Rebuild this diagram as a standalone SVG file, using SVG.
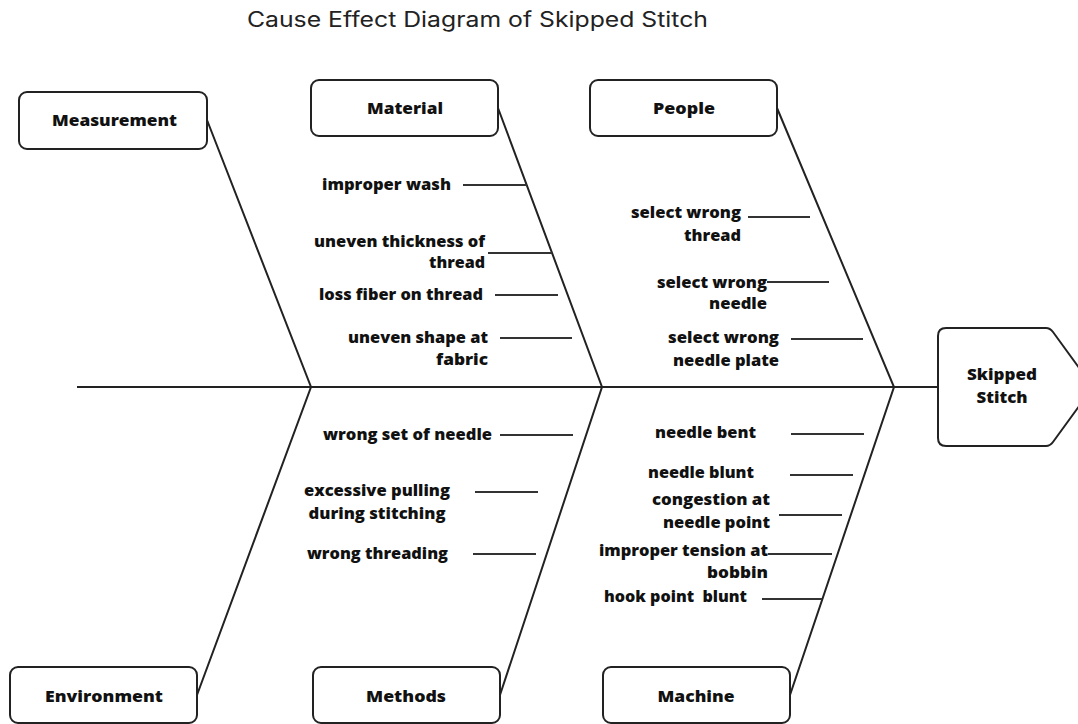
<svg xmlns="http://www.w3.org/2000/svg" width="1078" height="724" viewBox="0 0 1078 724">
  <style>
    .box { fill: #fff; stroke: #222; stroke-width: 2; }
    .bone { fill: none; stroke: #222; stroke-width: 2; }
    .tick { fill: none; stroke: #333; stroke-width: 2; }
    .head { font-family: "Open Sans", "Liberation Sans", sans-serif; font-weight: 800; font-size: 16.5px; fill: #111; text-anchor: middle; }
    .cause { font-family: "Open Sans", "Liberation Sans", sans-serif; font-weight: 800; font-size: 16px; fill: #111; }
    .end { text-anchor: end; }
    .mid { text-anchor: middle; }
    .title { font-family: "Inter", "Liberation Sans", sans-serif; font-size: 21px; fill: #222; }
  </style>

  <rect width="1078" height="724" fill="#fff"/>

  <text class="title" x="247" y="27" textLength="461" lengthAdjust="spacingAndGlyphs">Cause Effect Diagram of Skipped Stitch</text>

  <!-- spine and category bones -->
  <g id="connectors">
    <line class="bone" x1="77" y1="387" x2="938" y2="387"/>
    <polyline class="bone" points="207,120 311,387 197,695"/>
    <polyline class="bone" points="498,108 602,387 500,695"/>
    <polyline class="bone" points="777,108 894,387 790,695"/>

    <!-- Material causes -->
    <line class="tick" x1="463" y1="185" x2="527" y2="185"/>
    <line class="tick" x1="488" y1="253" x2="552" y2="253"/>
    <line class="tick" x1="495" y1="295" x2="558" y2="295"/>
    <line class="tick" x1="500" y1="338" x2="572" y2="338"/>

    <!-- People causes -->
    <line class="tick" x1="748" y1="217" x2="810" y2="217"/>
    <line class="tick" x1="767" y1="282" x2="829" y2="282"/>
    <line class="tick" x1="791" y1="339" x2="863" y2="339"/>

    <!-- Methods causes -->
    <line class="tick" x1="500" y1="435" x2="573" y2="435"/>
    <line class="tick" x1="475" y1="492" x2="538" y2="492"/>
    <line class="tick" x1="473" y1="554" x2="536" y2="554"/>

    <!-- Machine causes -->
    <line class="tick" x1="791" y1="434" x2="864" y2="434"/>
    <line class="tick" x1="790" y1="475" x2="853" y2="475"/>
    <line class="tick" x1="779" y1="515" x2="842" y2="515"/>
    <line class="tick" x1="768" y1="554" x2="832" y2="554"/>
    <line class="tick" x1="762" y1="599" x2="822" y2="599"/>
  </g>

  <!-- category boxes -->
  <g id="measurement">
    <rect class="box" x="19" y="92" width="188" height="57" rx="8"/>
    <text class="head" x="114.5" y="126" textLength="125" lengthAdjust="spacingAndGlyphs">Measurement</text>
  </g>
  <g id="material">
    <rect class="box" x="311" y="80" width="187" height="56" rx="8"/>
    <text class="head" x="405" y="114" textLength="76" lengthAdjust="spacingAndGlyphs">Material</text>
  </g>
  <g id="people">
    <rect class="box" x="590" y="80" width="187" height="56" rx="8"/>
    <text class="head" x="684" y="114" textLength="62" lengthAdjust="spacingAndGlyphs">People</text>
  </g>
  <g id="environment">
    <rect class="box" x="10" y="667" width="187" height="56" rx="8"/>
    <text class="head" x="104" y="702" textLength="118" lengthAdjust="spacingAndGlyphs">Environment</text>
  </g>
  <g id="methods">
    <rect class="box" x="313" y="667" width="187" height="56" rx="8"/>
    <text class="head" x="406" y="702" textLength="80" lengthAdjust="spacingAndGlyphs">Methods</text>
  </g>
  <g id="machine">
    <rect class="box" x="603" y="667" width="187" height="56" rx="8"/>
    <text class="head" x="696" y="702" textLength="77" lengthAdjust="spacingAndGlyphs">Machine</text>
  </g>

  <!-- effect head -->
  <g id="effect">
    <path class="box" d="M946,328 H1046 Q1050,328 1053,332 L1093,387 L1053,442 Q1050,446 1046,446 H946 Q938,446 938,438 V336 Q938,328 946,328 Z"/>
    <text class="head" x="1002" y="380" textLength="70" lengthAdjust="spacingAndGlyphs">Skipped</text>
    <text class="head" x="1002" y="403" textLength="51" lengthAdjust="spacingAndGlyphs">Stitch</text>
  </g>

  <!-- Material causes -->
  <g id="material-causes">
    <text class="cause" x="322" y="190" textLength="129" lengthAdjust="spacingAndGlyphs">improper wash</text>
    <text class="cause end" x="485" y="247" textLength="171" lengthAdjust="spacingAndGlyphs">uneven thickness of</text>
    <text class="cause end" x="485" y="268" textLength="56" lengthAdjust="spacingAndGlyphs">thread</text>
    <text class="cause" x="319" y="300" textLength="164" lengthAdjust="spacingAndGlyphs">loss fiber on thread</text>
    <text class="cause end" x="488" y="343" textLength="140" lengthAdjust="spacingAndGlyphs">uneven shape at</text>
    <text class="cause end" x="488" y="365" textLength="52" lengthAdjust="spacingAndGlyphs">fabric</text>
  </g>

  <!-- People causes -->
  <g id="people-causes">
    <text class="cause end" x="741" y="218" textLength="110" lengthAdjust="spacingAndGlyphs">select wrong</text>
    <text class="cause end" x="741" y="241" textLength="57" lengthAdjust="spacingAndGlyphs">thread</text>
    <text class="cause end" x="767" y="288" textLength="110" lengthAdjust="spacingAndGlyphs">select wrong</text>
    <text class="cause end" x="767" y="309" textLength="58" lengthAdjust="spacingAndGlyphs">needle</text>
    <text class="cause end" x="779" y="343" textLength="111" lengthAdjust="spacingAndGlyphs">select wrong</text>
    <text class="cause end" x="779" y="366" textLength="106" lengthAdjust="spacingAndGlyphs">needle plate</text>
  </g>

  <!-- Methods causes -->
  <g id="methods-causes">
    <text class="cause" x="323" y="440" textLength="169" lengthAdjust="spacingAndGlyphs">wrong set of needle</text>
    <text class="cause mid" x="377" y="496" textLength="146" lengthAdjust="spacingAndGlyphs">excessive pulling</text>
    <text class="cause mid" x="377" y="519" textLength="137" lengthAdjust="spacingAndGlyphs">during stitching</text>
    <text class="cause" x="307" y="559" textLength="141" lengthAdjust="spacingAndGlyphs">wrong threading</text>
  </g>

  <!-- Machine causes -->
  <g id="machine-causes">
    <text class="cause" x="655" y="438" textLength="101" lengthAdjust="spacingAndGlyphs">needle bent</text>
    <text class="cause" x="648" y="478" textLength="106" lengthAdjust="spacingAndGlyphs">needle blunt</text>
    <text class="cause end" x="770" y="505" textLength="118" lengthAdjust="spacingAndGlyphs">congestion at</text>
    <text class="cause end" x="770" y="528" textLength="107" lengthAdjust="spacingAndGlyphs">needle point</text>
    <text class="cause end" x="768" y="556" textLength="169" lengthAdjust="spacingAndGlyphs">improper tension at</text>
    <text class="cause end" x="768" y="578" textLength="61" lengthAdjust="spacingAndGlyphs">bobbin</text>
    <text class="cause" x="604" y="602" textLength="143" lengthAdjust="spacingAndGlyphs" xml:space="preserve">hook point  blunt</text>
  </g>
</svg>
